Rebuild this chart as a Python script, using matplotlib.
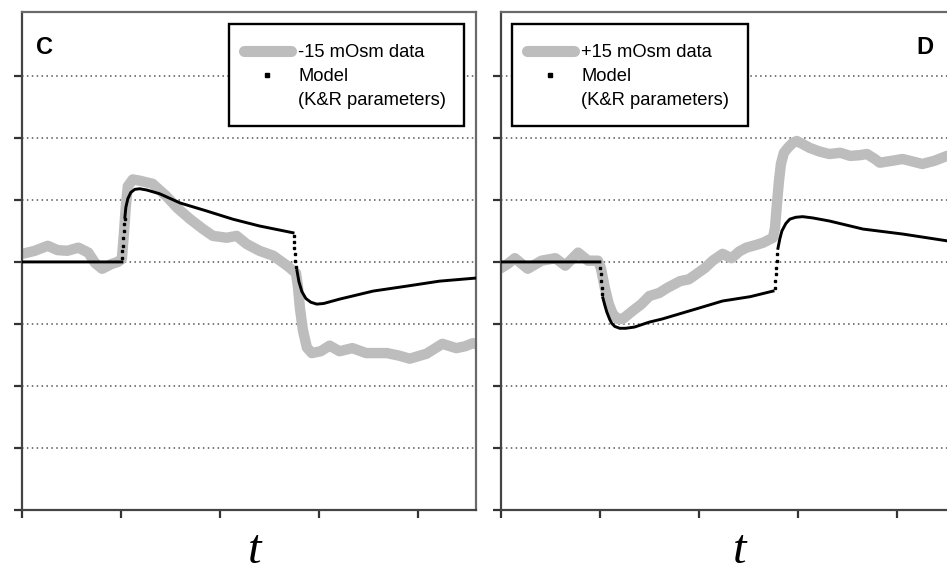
import numpy as np
import matplotlib
matplotlib.use("Agg")
import matplotlib.pyplot as plt
from matplotlib.lines import Line2D
from matplotlib.patches import Rectangle

nan = np.nan

# ---------------- Panel C data ----------------
c_data_t = [0.0, 0.03, 0.13, 0.26, 0.36, 0.46, 0.57, 0.67, 0.74, 0.81, 0.91, 0.97, 1.01,
            1.03, 1.05, 1.07, 1.12, 1.19, 1.32, 1.46, 1.57, 1.70, 1.83, 1.93, 2.07, 2.17,
            2.27, 2.40, 2.54, 2.68, 2.77, 2.79, 2.81, 2.84, 2.88, 2.93, 3.02, 3.11, 3.21,
            3.34, 3.48, 3.69, 3.81, 3.92, 4.09, 4.25, 4.39, 4.48, 4.56, 4.62]
c_data_y = [4.13, 4.14, 4.18, 4.26, 4.19, 4.18, 4.23, 4.15, 3.98, 3.89, 3.97, 4.00, 4.05,
            4.45, 4.90, 5.22, 5.33, 5.31, 5.26, 5.06, 4.87, 4.69, 4.53, 4.42, 4.39, 4.42,
            4.29, 4.18, 4.10, 3.94, 3.82, 3.60, 3.25, 2.90, 2.62, 2.53, 2.56, 2.65, 2.56,
            2.61, 2.53, 2.53, 2.49, 2.44, 2.52, 2.68, 2.61, 2.64, 2.69, 2.66]

c_model_t = [0.0, 1.01, nan, 1.04, 1.05, 1.07, 1.10, 1.14, 1.19, 1.26, 1.39, 1.60, 1.87,
             2.13, 2.40, 2.74, nan, 2.78, 2.80, 2.83, 2.87, 2.92, 2.98, 3.05, 3.21, 3.55,
             3.89, 4.22, 4.59]
c_model_y = [4.0, 4.0, nan, 4.72, 4.88, 5.02, 5.12, 5.17, 5.18, 5.16, 5.10, 4.95, 4.82,
             4.69, 4.58, 4.47, nan, 3.86, 3.68, 3.52, 3.41, 3.35, 3.32, 3.33, 3.40, 3.53,
             3.61, 3.69, 3.74]
c_jump_t = [1.01, 1.015, 1.02, 1.025, 1.03, 1.035, 1.04, 2.745, 2.75, 2.755, 2.76, 2.765, 2.77]
c_jump_y = [4.06, 4.18, 4.26, 4.39, 4.50, 4.61, 4.69, 4.42, 4.32, 4.22, 4.12, 4.02, 3.92]

# ---------------- Panel D data ----------------
d_data_t = [0.0, 0.07, 0.14, 0.27, 0.41, 0.55, 0.65, 0.78, 0.88, 0.98, 1.01, 1.05, 1.09,
            1.13, 1.18, 1.23, 1.33, 1.42, 1.50, 1.60, 1.68, 1.81, 1.90, 1.98, 2.06, 2.14,
            2.24, 2.33, 2.41, 2.48, 2.57, 2.65, 2.75, 2.77, 2.79, 2.81, 2.83, 2.86, 2.90,
            2.95, 2.99, 3.05, 3.12, 3.22, 3.32, 3.43, 3.53, 3.62, 3.70, 3.78, 3.83, 3.95,
            4.06, 4.16, 4.26, 4.38, 4.51, 4.62]
d_data_y = [3.90, 3.97, 4.06, 3.89, 4.02, 4.06, 3.94, 4.15, 4.02, 4.02, 3.90, 3.58, 3.32,
            3.16, 3.08, 3.08, 3.21, 3.32, 3.45, 3.50, 3.58, 3.69, 3.72, 3.81, 3.90, 4.02,
            4.13, 4.06, 4.17, 4.23, 4.27, 4.31, 4.39, 4.55, 4.94, 5.30, 5.58, 5.76, 5.84,
            5.92, 5.95, 5.90, 5.84, 5.78, 5.74, 5.76, 5.71, 5.72, 5.74, 5.66, 5.60, 5.63,
            5.66, 5.62, 5.58, 5.63, 5.71, 5.72]

d_model_t = [0.0, 1.0, nan, 1.03, 1.05, 1.07, 1.10, 1.12, 1.15, 1.20, 1.26, 1.35, 1.50,
             1.63, 2.01, 2.24, 2.52, 2.75, nan, 2.80, 2.82, 2.84, 2.88, 2.92, 2.98, 3.05,
             3.15, 3.32, 3.66, 4.06, 4.51, 4.60]
d_model_y = [4.0, 4.0, nan, 3.42, 3.30, 3.19, 3.07, 3.01, 2.96, 2.93, 2.93, 2.95, 3.03,
             3.08, 3.26, 3.37, 3.44, 3.53, nan, 4.22, 4.38, 4.50, 4.62, 4.69, 4.72, 4.73,
             4.71, 4.66, 4.53, 4.45, 4.34, 4.33]
d_jump_t = [1.005, 1.01, 1.015, 1.02, 1.025, 2.77, 2.775, 2.78, 2.785, 2.79, 2.795]
d_jump_y = [3.90, 3.81, 3.69, 3.58, 3.48, 3.58, 3.69, 3.81, 3.90, 4.02, 4.13]

panel_letters = ["C", "D"]
data_labels = ["-15 mOsm data", "+15 mOsm data"]
model_labels = ["Model", "(K&R parameters)"]
x_ticks = [0, 1, 2, 3, 4]
y_ticks = [0, 1, 2, 3, 4, 5, 6, 7]
grid_levels = [1, 2, 3, 4, 5, 6, 7]
x_label = "t"

W, H = 947, 574
fig = plt.figure(figsize=(W / 100, H / 100), dpi=100)

GRAY = "#bdbdbd"
SPINE = "#6a6a6a"
AX_W, AX_H = 454, 498


def px_x(px, left):
    return (px - left) / AX_W


def px_y(py):
    return (510 - py) / AX_H


def make_panel(left_px, data_t, data_y, model_t, model_y, jump_t, jump_y,
               letter, letter_x, dlabel, box_px, handle_px, t_center_px):
    ax = fig.add_axes([left_px / W, (H - 510) / H, AX_W / W, AX_H / H])
    ax.set_xlim(0, 4.59)
    ax.set_ylim(0, 8.03)
    for lv in grid_levels:
        ax.axhline(lv, color="#555555", lw=1.1, ls=(0, (1, 2.2)), zorder=1)
    ax.plot(data_t, data_y, color=GRAY, lw=7.5, solid_capstyle="round",
            solid_joinstyle="round", zorder=2)
    ax.plot(model_t, model_y, color="black", lw=2.1, zorder=3,
            solid_joinstyle="round")
    ax.plot(jump_t, jump_y, ls="none", marker="s", ms=1.8, color="black", zorder=3)
    ax.set_xticks(x_ticks)
    ax.set_yticks(y_ticks)
    ax.set_xticklabels([])
    ax.set_yticklabels([])
    ax.tick_params(axis="both", direction="out", length=6, width=1.6, color="#333333")
    for s in ax.spines.values():
        s.set_color(SPINE)
        s.set_linewidth(1.6)
    ax.spines["left"].set_color("#444444")
    ax.spines["bottom"].set_color("#444444")
    ax.text(letter_x, 0.915, letter, transform=ax.transAxes, fontsize=17,
            fontweight="bold", family="Liberation Sans", ha="left", va="baseline")

    # legend box
    x0, x1, y0, y1 = box_px
    ax.add_patch(Rectangle((px_x(x0, left_px), px_y(y1)),
                           (x1 - x0) / AX_W, (y1 - y0) / AX_H,
                           transform=ax.transAxes, facecolor="white",
                           edgecolor="black", lw=1.7, zorder=6, clip_on=False))
    handles = [Line2D([], [], color=GRAY, lw=8, solid_capstyle="round"),
               Line2D([], [], ls="none", marker="s", ms=2.6, color="black"),
               Line2D([], [], ls="none")]
    leg = ax.legend(handles, [dlabel] + model_labels, loc="upper left",
                    bbox_to_anchor=(px_x(handle_px, left_px), px_y(y0 + 20)),
                    borderaxespad=0, borderpad=0, frameon=False,
                    prop={"family": "Liberation Sans", "size": 13.2},
                    handlelength=2.55, handletextpad=0.4, labelspacing=0.38)
    leg.set_zorder(7)

    ax.text(px_x(t_center_px, left_px), px_y(573), x_label, transform=ax.transAxes,
            ha="center", va="bottom", fontsize=35, fontstyle="italic",
            family="Liberation Serif")
    return ax


make_panel(22, c_data_t, c_data_y, c_model_t, c_model_y, c_jump_t, c_jump_y,
           panel_letters[0], 0.03, data_labels[0], (229, 464, 24, 126), 244, 255)
make_panel(501, d_data_t, d_data_y, d_model_t, d_model_y, d_jump_t, d_jump_y,
           panel_letters[1], 0.915, data_labels[1], (512, 748, 24, 126), 527, 740)

fig.savefig("out.png", dpi=100)
